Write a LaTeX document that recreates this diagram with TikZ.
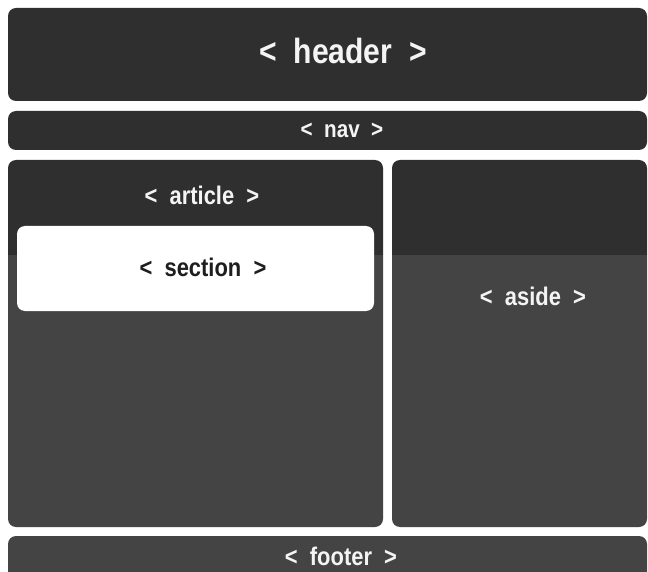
\documentclass[tikz,border=0pt]{standalone}
\usepackage{fontspec}
\setmainfont{Liberation Sans}
\newfontfamily\tagfont{Liberation Sans}[FakeStretch=0.86]
\usepackage{xcolor}
\usepackage{tikz}

\definecolor{boxgray}{HTML}{2F2F2F}
\definecolor{tagwhite}{HTML}{F4F4F4}
\definecolor{tagdark}{HTML}{1E1E1E}

\begin{document}
\begin{tikzpicture}%
                [x=1pt,
                y=-1pt,
                block/.style={fill=boxgray, rounded corners=8pt},
                inner/.style={fill=white, rounded corners=8pt},
                tag/.style={font=\tagfont\bfseries\fontsize{25.5}{27}\selectfont, text=tagwhite, inner sep=0pt},
                darktag/.style={tag, text=tagdark}]

            \useasboundingbox (0,0) rectangle (648,572);

            %% Drawing the blocks
            \fill[block] (8,8) rectangle (647,101);
            \fill[block] (8,111) rectangle (647,150);
            \fill[block] (8,160) rectangle (383,527);
            \fill[block] (392,160) rectangle (647,527);
            \fill[block] (8,536) rectangle (647,580);
            %% lighter lower half
            \fill[white, opacity=0.1] (0,255) rectangle (648,572);
            %% section inside the article
            \fill[inner] (17,226) rectangle (374,311);
            %%
            %% Drawing the tags
            %%
            \node[tag, font=\tagfont\bfseries\fontsize{35}{37}\selectfont] (header) at (343,51)  {<\ \ header\ \ >};
            \node[tag, font=\tagfont\bfseries\fontsize{24}{26}\selectfont] (nav)    at (342,130) {<\ \ nav\ \ >};
            \node[tag]      (article) at (202,195) {<\ \ article\ \ >};
            \node[darktag]  (section) at (203,267) {<\ \ section\ \ >};
            \node[tag]      (aside)   at (533,296) {<\ \ aside\ \ >};
            \node[tag]      (footer)  at (341,556) {<\ \ footer\ \ >};
            %%
\end{tikzpicture}
\end{document}
